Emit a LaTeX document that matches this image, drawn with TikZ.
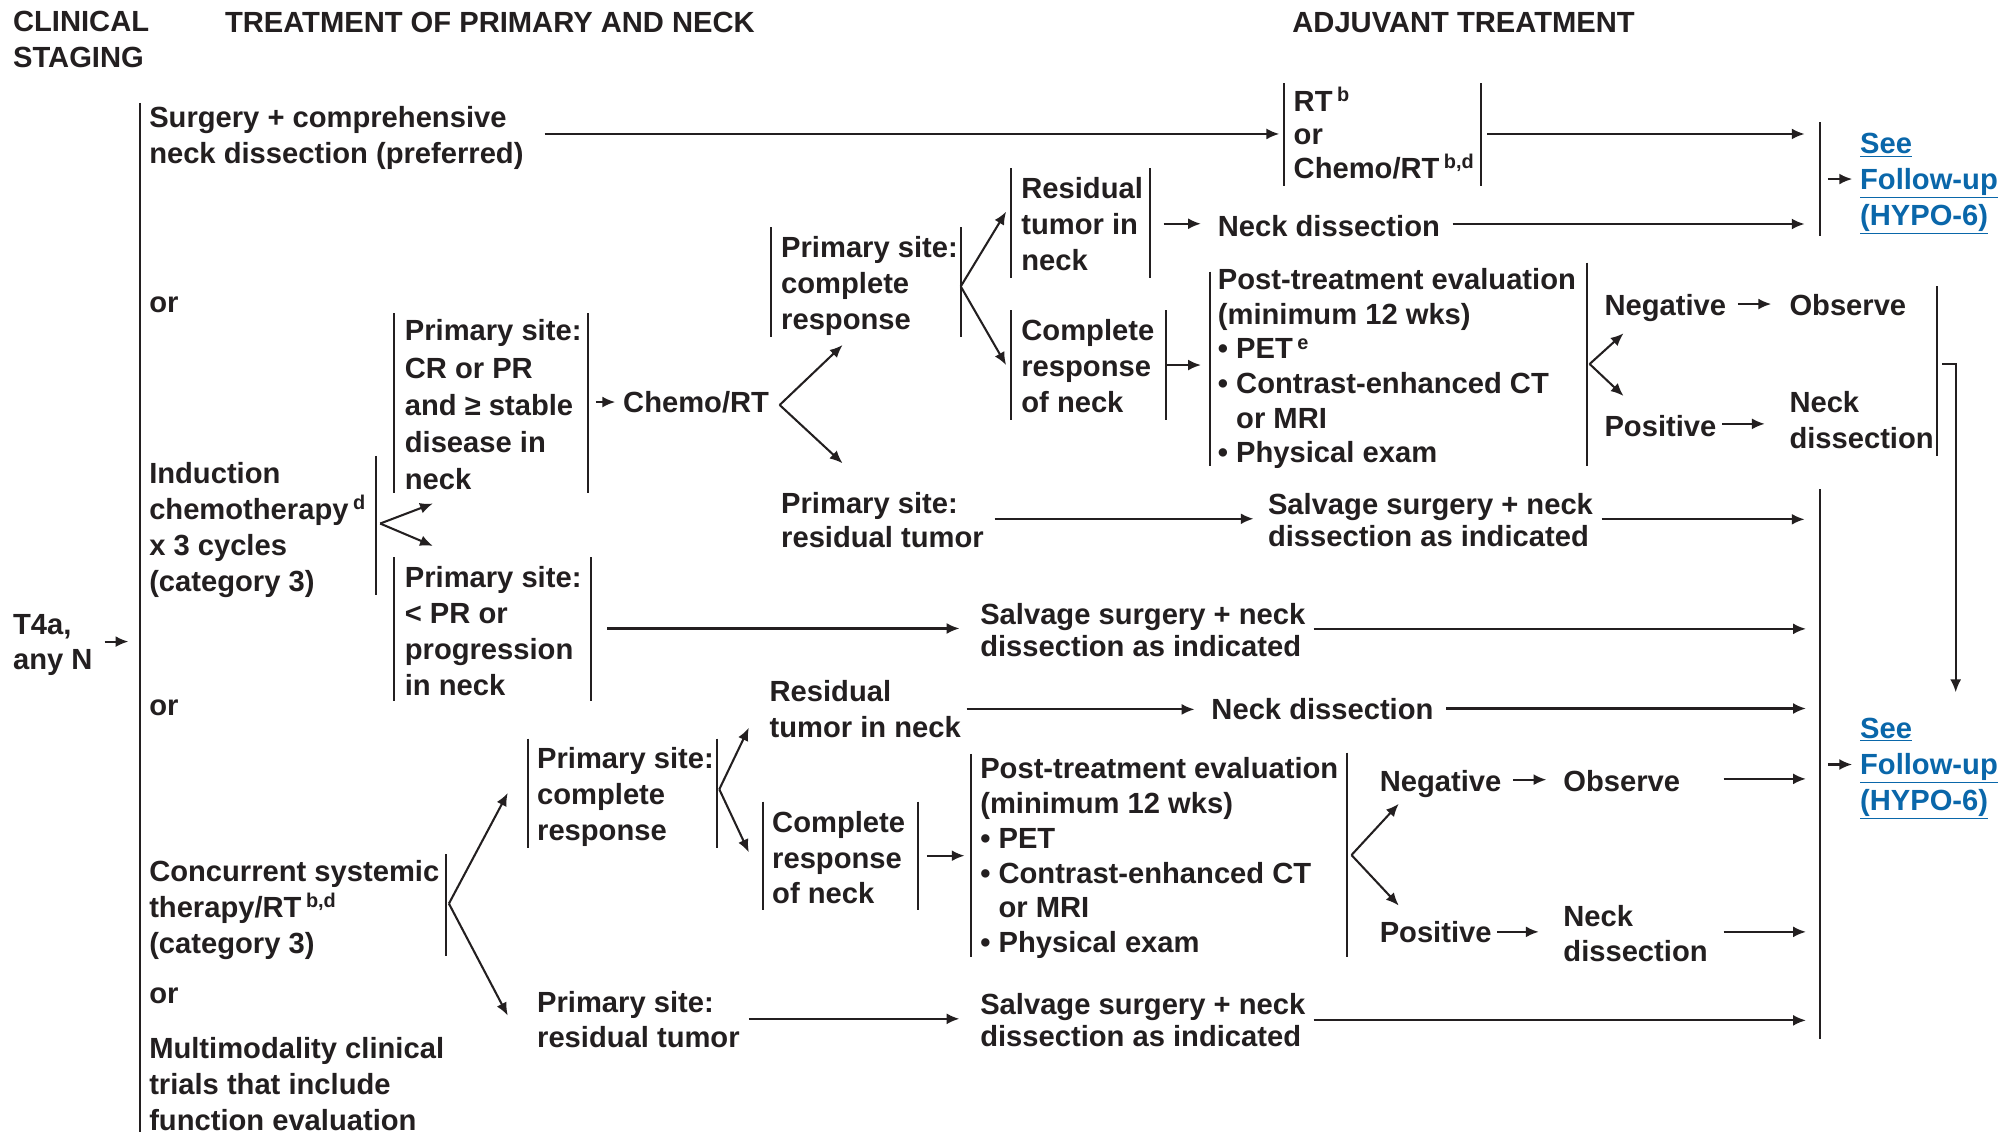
\documentclass[tikz,border=0pt]{standalone}
\usepackage{fontspec}
\setmainfont{Liberation Sans}
\usetikzlibrary{arrows.meta}
\definecolor{ink}{HTML}{231F20}
\definecolor{linkblue}{HTML}{0A67AA}
% raised note letter after a word
\newcommand\sps[1]{\hspace{3.5pt}\smash{\raisebox{7.6pt}{\fontsize{15.5}{15.5}\selectfont #1}}}
\newcommand\lnk[1]{\underline{#1}}
\tikzset{
  txt/.style={anchor=north west, inner sep=0pt, align=left, text=ink,
    font=\fontsize{22.7}{#1}\selectfont\bfseries,
    execute at begin node=\rule{0pt}{16.3pt}},
  txt/.default=28,
  link/.style={txt, text=linkblue},
  bar/.style={draw=ink, line width=1.5pt},
  arr/.style={draw=ink, line width=1.6pt, -{Latex[length=10pt,width=8.5pt]}},
}
\begin{document}
\begin{tikzpicture}[x=1pt,y=-1pt]
\fill[white] (0,0) rectangle (1568,881);
\useasboundingbox (0,0) rectangle (1568,881);

% ---------- column headings ----------
\node[txt] (hclin) at (10,8.8) {CLINICAL\\STAGING};
\node[txt] (htreat) at (175,8.8) {TREATMENT OF PRIMARY AND NECK};
\node[txt] (hadj) at (1006,8.8) {ADJUVANT TREATMENT};

% ---------- staging and main branch line ----------
\node[txt] (t4a) at (10,477.8) {T4a,\\any N};
\coordinate (t4a-o) at (81.5,499.5);
\coordinate (main-i) at (100,499.5);
\draw[arr] (t4a-o) -- (main-i);
\draw[bar] (109,80) -- (109,881);

% ---------- surgery branch ----------
\node[txt] (surg) at (116,82.8) {Surgery + comprehensive\\neck dissection (preferred)};
\node[txt=26] (rt) at (1007,70.8) {RT\sps{b}\\or\\Chemo/RT\sps{b,d}};
\draw[bar] (1000,65) -- (1000,145);
\draw[bar] (1153,65) -- (1153,145);
\coordinate (surg-o) at (424,104.3);
\coordinate (rt-i) at (996,104.3);
\coordinate (rt-o) at (1158,104.3);
\coordinate (fu1-a) at (1405,104.3);
\draw[arr] (surg-o) -- (rt-i);
\draw[arr] (rt-o) -- (fu1-a);

\node[link] (fu1) at (1448,103.8) {\lnk{See}\\\lnk{Follow-up}\\\lnk{(HYPO-6)}};
\draw[bar] (1417,95) -- (1417,184);
\coordinate (fu1-s) at (1423,139.4);
\coordinate (fu1-i) at (1442,139.4);
\draw[arr] (fu1-s) -- (fu1-i);

\node[txt] (or1) at (116,226.6) {or};

% ---------- induction chemotherapy branch ----------
\node[txt] (ind) at (116,359.8) {Induction\\chemotherapy\sps{d}\\x 3 cycles\\(category 3)};
\draw[bar] (292.5,355) -- (292.5,463);
\coordinate (ind-f) at (296,407.6);
\coordinate (crpr-i) at (337,392);
\coordinate (ltpr-i) at (337,425);
\draw[arr] (ind-f) -- (crpr-i);
\draw[arr] (ind-f) -- (ltpr-i);

\node[txt=29] (crpr) at (315,248.8) {Primary site:\\CR or PR\\and ≥ stable\\disease in\\neck};
\draw[bar] (307,244) -- (307,384);
\draw[bar] (458,244) -- (458,384);
\coordinate (crpr-o) at (464,313);
\coordinate (chemo-i) at (479,313);
\draw[arr] (crpr-o) -- (chemo-i);
\node[txt] (chemo) at (485,304.8) {Chemo/RT};
\coordinate (chemo-f) at (607,315.3);
\coordinate (pscr1-i) at (656,268.6);
\coordinate (psr1-i) at (656,360.7);
\draw[arr] (chemo-f) -- (pscr1-i);
\draw[arr] (chemo-f) -- (psr1-i);

\node[txt] (pscr1) at (608,183.8) {Primary site:\\complete\\response};
\draw[bar] (600.5,177) -- (600.5,262);
\draw[bar] (748,177) -- (748,262);
\coordinate (pscr1-f) at (748,223);
\coordinate (rtn1-i) at (783.3,164.8);
\coordinate (crn1-i) at (783.3,284.2);
\draw[arr] (pscr1-f) -- (rtn1-i);
\draw[arr] (pscr1-f) -- (crn1-i);

\node[txt] (rtn1) at (795,137.8) {Residual\\tumor in\\neck};
\draw[bar] (787,131) -- (787,216.5);
\draw[bar] (895,131) -- (895,216.5);
\coordinate (rtn1-o) at (906,174.2);
\coordinate (nd1-i) at (935,174.2);
\draw[arr] (rtn1-o) -- (nd1-i);
\node[txt] (nd1) at (948,167.8) {Neck dissection};
\coordinate (nd1-o) at (1131,174.4);
\coordinate (fu1-b) at (1405,174.4);
\draw[arr] (nd1-o) -- (fu1-b);

\node[txt] (crn1) at (795,248.8) {Complete\\response\\of neck};
\draw[bar] (787,241.5) -- (787,327);
\draw[bar] (907.5,241.5) -- (907.5,327);
\coordinate (crn1-o) at (908.2,284.2);
\coordinate (pte1-i) at (935,284.2);
\draw[arr] (crn1-o) -- (pte1-i);

\node[txt=27] (pte1) at (948,208.8) {Post-treatment evaluation\\(minimum 12 wks)\\• PET\sps{e}\\• Contrast-enhanced CT\\\phantom{• }or MRI\\• Physical exam};
\draw[bar] (942,211.5) -- (942,363);
\draw[bar] (1235.5,204.5) -- (1235.5,363);
\coordinate (pte1-f) at (1237.6,283.4);
\coordinate (neg1-i) at (1264,259.5);
\coordinate (pos1-i) at (1264,308.3);
\draw[arr] (pte1-f) -- (neg1-i);
\draw[arr] (pte1-f) -- (pos1-i);

\node[txt] (neg1) at (1249,228.8) {Negative};
\coordinate (neg1-o) at (1353,236.7);
\coordinate (obs1-i) at (1379,236.7);
\draw[arr] (neg1-o) -- (obs1-i);
\node[txt] (obs1) at (1393,228.8) {Observe};

\node[txt] (pos1) at (1249,322.8) {Positive};
\coordinate (pos1-o) at (1341,330);
\coordinate (nd2-i) at (1374,330);
\draw[arr] (pos1-o) -- (nd2-i);
\node[txt] (nd2) at (1393,304.8) {Neck\\dissection};
\draw[bar] (1508,223) -- (1508,355);
\coordinate (brk-a) at (1512,283.4);
\coordinate (fu2-t) at (1522.6,539);
\draw[arr] (brk-a) -| (fu2-t);

\node[txt=27] (psr1) at (608,382.8) {Primary site:\\residual tumor};
\coordinate (psr1-o) at (774.4,403.9);
\coordinate (sal1-i) at (976,403.9);
\draw[arr] (psr1-o) -- (sal1-i);
\node[txt=25] (sal1) at (987,383.8) {Salvage surgery + neck\\dissection as indicated};
\coordinate (sal1-o) at (1247,404.3);
\coordinate (fu2-a) at (1405,404.3);
\draw[arr] (sal1-o) -- (fu2-a);

\node[txt] (ltpr) at (315,440.8) {Primary site:\\< PR or\\progression\\in neck};
\draw[bar] (307,434) -- (307,545.6);
\draw[bar] (460,434) -- (460,545.6);
\coordinate (ltpr-o) at (472.7,489.3);
\coordinate (sal2-i) at (747,489.3);
\draw[arr] (ltpr-o) -- (sal2-i);
\node[txt=25] (sal2) at (763,469.8) {Salvage surgery + neck\\dissection as indicated};
\coordinate (sal2-o) at (1022.8,489.6);
\coordinate (fu2-b) at (1406,489.6);
\draw[arr] (sal2-o) -- (fu2-b);

\node[txt] (or2) at (116,540.6) {or};

% ---------- concurrent systemic therapy branch ----------
\node[txt] (conc) at (116,669.8) {Concurrent systemic\\therapy/RT\sps{b,d}\\(category 3)};
\draw[bar] (347,665) -- (347,744);
\coordinate (conc-f) at (349.5,703.5);
\coordinate (pscr2-i) at (395.3,617.4);
\coordinate (psr2-i) at (395.3,790.6);
\draw[arr] (conc-f) -- (pscr2-i);
\draw[arr] (conc-f) -- (psr2-i);

\node[txt] (pscr2) at (418,581.8) {Primary site:\\complete\\response};
\draw[bar] (411,575) -- (411,660);
\draw[bar] (558,575) -- (558,660);
\coordinate (pscr2-f) at (560,614.5);
\coordinate (rtn2-i) at (583,566.6);
\coordinate (crn2-i) at (583,663.5);
\draw[arr] (pscr2-f) -- (rtn2-i);
\draw[arr] (pscr2-f) -- (crn2-i);

\node[txt] (rtn2) at (599,529.8) {Residual\\tumor in neck};
\coordinate (rtn2-o) at (752.5,552.3);
\coordinate (nd3-i) at (930,552.3);
\draw[arr] (rtn2-o) -- (nd3-i);
\node[txt] (nd3) at (943,543.8) {Neck dissection};
\coordinate (nd3-o) at (1126,551.6);
\coordinate (fu2-c) at (1406,551.6);
\draw[arr] (nd3-o) -- (fu2-c);

\node[txt=27.5] (crn2) at (601,631.8) {Complete\\response\\of neck};
\draw[bar] (594,624) -- (594,708.5);
\draw[bar] (714.7,624) -- (714.7,708.5);
\coordinate (crn2-o) at (721.6,666.2);
\coordinate (pte2-i) at (751,666.2);
\draw[arr] (crn2-o) -- (pte2-i);

\node[txt=27] (pte2) at (763,589.8) {Post-treatment evaluation\\(minimum 12 wks)\\• PET\\• Contrast-enhanced CT\\\phantom{• }or MRI\\• Physical exam};
\draw[bar] (756.3,587) -- (756.3,745);
\draw[bar] (1049,586) -- (1049,745);
\coordinate (pte2-f) at (1052.2,665.7);
\coordinate (neg2-i) at (1089,625.8);
\coordinate (pos2-i) at (1089,705);
\draw[arr] (pte2-f) -- (neg2-i);
\draw[arr] (pte2-f) -- (pos2-i);

\node[txt] (neg2) at (1074,599.8) {Negative};
\coordinate (neg2-o) at (1178,607);
\coordinate (obs2-i) at (1204,607);
\draw[arr] (neg2-o) -- (obs2-i);
\node[txt] (obs2) at (1217,599.8) {Observe};
\coordinate (obs2-o) at (1342,606.4);
\coordinate (fu2-d) at (1406,606.4);
\draw[arr] (obs2-o) -- (fu2-d);

\node[txt] (pos2) at (1074,716.8) {Positive};
\coordinate (pos2-o) at (1165.5,725.5);
\coordinate (nd4-i) at (1198,725.5);
\draw[arr] (pos2-o) -- (nd4-i);
\node[txt=27] (nd4) at (1217,704.8) {Neck\\dissection};
\coordinate (nd4-o) at (1342,725.5);
\coordinate (fu2-e) at (1406,725.5);
\draw[arr] (nd4-o) -- (fu2-e);

\node[txt=27] (psr2) at (418,771.8) {Primary site:\\residual tumor};
\coordinate (psr2-o) at (583,793.2);
\coordinate (sal3-i) at (747,793.2);
\draw[arr] (psr2-o) -- (sal3-i);
\node[txt=25] (sal3) at (763,772.8) {Salvage surgery + neck\\dissection as indicated};
\coordinate (sal3-o) at (1022.8,794.4);
\coordinate (fu2-f) at (1406,794.4);
\draw[arr] (sal3-o) -- (fu2-f);

\node[txt] (or3) at (116,764.6) {or};
\node[txt] (multi) at (116,807.8) {Multimodality clinical\\trials that include\\function evaluation};

% ---------- lower follow-up ----------
\draw[bar] (1417,381) -- (1417,809);
\coordinate (fu2-s) at (1423,595.2);
\coordinate (fu2-i) at (1442,595.2);
\draw[arr] (fu2-s) -- (fu2-i);
\node[link] (fu2) at (1448,558.8) {\lnk{See}\\\lnk{Follow-up}\\\lnk{(HYPO-6)}};
\end{tikzpicture}
\end{document}
